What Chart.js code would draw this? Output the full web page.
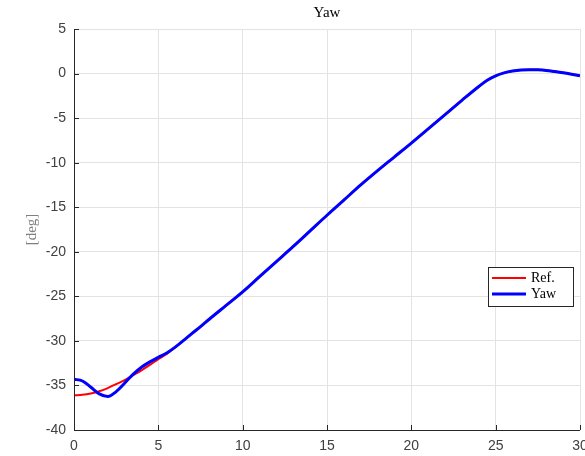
<!DOCTYPE html>
<html>
<head>
<meta charset="utf-8">
<script src="https://cdn.jsdelivr.net/npm/chart.js@4.4.1/dist/chart.umd.min.js"></script>
<style>
  html, body { margin: 0; padding: 0; background: #fff; }
  #wrap { width: 585px; height: 456px; }
</style>
</head>
<body>
<div id="wrap"><canvas id="yaw"></canvas></div>
<script>
// time samples (s)
const timeRef = [0, 0.5, 1, 1.5, 2, 2.5, 3, 3.5, 4, 4.5, 5, 5.5, 6, 6.5, 7, 7.5, 8, 9, 10, 11, 12, 13, 14, 15, 16, 17, 18, 19, 20, 21, 22, 23, 24, 24.5, 25, 25.5, 26, 26.5, 27, 27.5, 28, 28.5, 29, 29.5, 30];
const refDeg = [-36.1, -36.05, -35.9, -35.65, -35.3, -34.85, -34.4, -33.85, -33.3, -32.7, -32.05, -31.45, -30.75, -29.95, -29.15, -28.4, -27.6, -26.05, -24.5, -22.8, -21.1, -19.4, -17.65, -15.9, -14.2, -12.5, -10.9, -9.35, -7.8, -6.2, -4.6, -3.0, -1.45, -0.75, -0.25, 0.08, 0.28, 0.4, 0.44, 0.42, 0.35, 0.22, 0.08, -0.08, -0.25];
const yawDeg = [-34.3, -34.5, -35.2, -35.95, -36.25, -35.7, -34.75, -33.75, -32.95, -32.35, -31.85, -31.35, -30.7, -29.95, -29.15, -28.4, -27.6, -26.05, -24.5, -22.8, -21.1, -19.4, -17.65, -15.9, -14.2, -12.5, -10.9, -9.35, -7.8, -6.2, -4.6, -3.0, -1.45, -0.75, -0.25, 0.08, 0.28, 0.4, 0.44, 0.42, 0.35, 0.22, 0.08, -0.08, -0.25];
const xTicks = [0, 5, 10, 15, 20, 25, 30];
const yTicks = [5, 0, -5, -10, -15, -20, -25, -30, -35, -40];
const seriesNames = ["Ref.", "Yaw"];

const pts = (ys) => timeRef.map((t, i) => ({ x: t, y: ys[i] }));

const matlabDecor = {
  id: "matlabDecor",
  afterDraw(chart) {
    const { ctx, chartArea: a, scales } = chart;
    ctx.save();
    // axes lines (left + bottom) and inner ticks
    ctx.strokeStyle = "#262626";
    ctx.lineWidth = 1;
    ctx.beginPath();
    ctx.moveTo(a.left + 0.5, a.top);
    ctx.lineTo(a.left + 0.5, a.bottom + 0.5);
    ctx.lineTo(a.right, a.bottom + 0.5);
    xTicks.forEach(v => {
      const px = Math.round(scales.x.getPixelForValue(v)) + 0.5;
      ctx.moveTo(px, a.bottom);
      ctx.lineTo(px, a.bottom - 5);
    });
    yTicks.forEach(v => {
      const py = Math.round(scales.y.getPixelForValue(v)) + 0.5;
      ctx.moveTo(a.left, py);
      ctx.lineTo(a.left + 5, py);
    });
    ctx.stroke();

    // title
    ctx.fillStyle = "#000";
    ctx.font = "15px 'Liberation Serif', serif";
    ctx.textAlign = "center";
    ctx.textBaseline = "middle";
    ctx.fillText("Yaw", (a.left + a.right) / 2, 13);

    // y label
    ctx.fillStyle = "#808080";
    ctx.translate(32, (a.top + a.bottom) / 2);
    ctx.rotate(-Math.PI / 2);
    ctx.fillText("[deg]", 0, 0);
    ctx.setTransform(1, 0, 0, 1, 0, 0);

    // legend
    const lx = 488, ly = 267, lw = 85, lh = 39;
    ctx.fillStyle = "#fff";
    ctx.fillRect(lx, ly, lw, lh);
    ctx.strokeStyle = "#262626";
    ctx.strokeRect(lx + 0.5, ly + 0.5, lw, lh);
    const colors = ["#ff0000", "#0000ff"];
    const widths = [2, 3];
    ctx.font = "14px 'Liberation Serif', serif";
    ctx.textAlign = "left";
    seriesNames.forEach((n, i) => {
      const yy = ly + 11 + i * 16;
      ctx.strokeStyle = colors[i];
      ctx.lineWidth = widths[i];
      ctx.beginPath();
      ctx.moveTo(lx + 4, yy);
      ctx.lineTo(lx + 38, yy);
      ctx.stroke();
      ctx.fillStyle = "#000";
      ctx.fillText(n, lx + 43, yy);
    });
    ctx.restore();
  }
};

new Chart(document.getElementById("yaw"), {
  type: "line",
  data: {
    // blue drawn on top of red, as in the reference
    datasets: [
      { label: seriesNames[1], data: pts(yawDeg), borderColor: "#0000ff", borderWidth: 3, pointRadius: 0, cubicInterpolationMode: "monotone" },
      { label: seriesNames[0], data: pts(refDeg), borderColor: "#ff0000", borderWidth: 2, pointRadius: 0, cubicInterpolationMode: "monotone" }
    ]
  },
  options: {
    responsive: true,
    maintainAspectRatio: false,
    animation: false,
    layout: { padding: { top: 29, right: 5, left: 0, bottom: 0 } },
    plugins: { legend: { display: false }, tooltip: { enabled: false } },
    scales: {
      x: {
        type: "linear",
        min: 0, max: 30,
        afterBuildTicks: s => { s.ticks = xTicks.map(v => ({ value: v })); },
        afterFit: s => { s.height = 26; s.paddingRight = 0; s.paddingLeft = 0; },
        grid: { color: "#e3e3e3", drawTicks: false },
        border: { display: false },
        ticks: { color: "#404040", font: { family: "'Liberation Sans', Arial", size: 14 }, padding: 8, maxRotation: 0 }
      },
      y: {
        type: "linear",
        min: -40, max: 5,
        afterBuildTicks: s => { s.ticks = yTicks.map(v => ({ value: v })); },
        afterFit: s => { s.width = 74; s.paddingTop = 0; s.paddingBottom = 0; },
        grid: { color: "#e3e3e3", drawTicks: false },
        border: { display: false },
        ticks: { color: "#404040", font: { family: "'Liberation Sans', Arial", size: 14 }, padding: 8 }
      }
    }
  },
  plugins: [matlabDecor]
});
</script>
</body>
</html>
